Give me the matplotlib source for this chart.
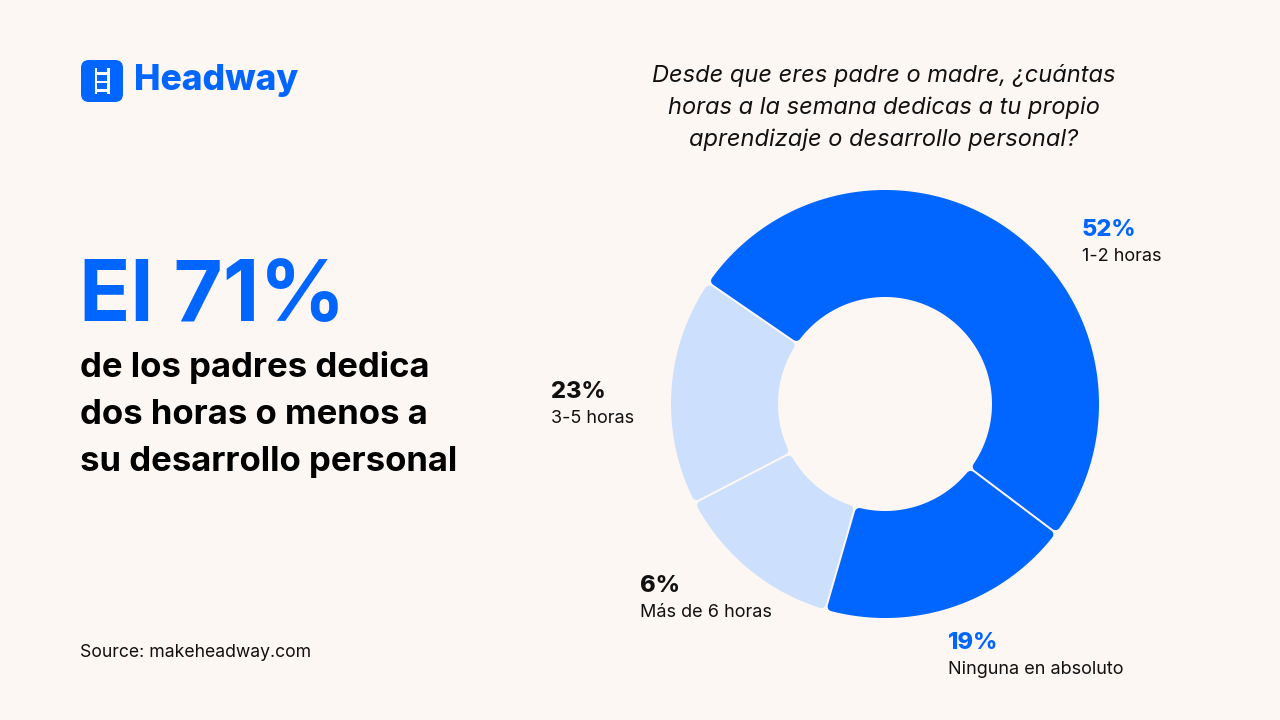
import matplotlib.pyplot as plt
import numpy as np
from matplotlib.patches import Polygon, FancyBboxPatch, Rectangle

# data
categories = ["1-2 horas", "Ninguna en absoluto", "Más de 6 horas", "3-5 horas"]
pct_labels = ["52%", "19%", "6%", "23%"]
# arc share as drawn in the picture (the graphic is not to scale)
arc_share = [50.7, 19.2, 12.9, 17.2]
seg_colors = ["#0066FF", "#0066FF", "#CCE0FD", "#CCE0FD"]
label_colors = ["#0066FF", "#0066FF", "#111111", "#111111"]
label_pos = [(1082, 236), (948, 649), (640, 592), (551, 398)]

BG = "#FDF7F4"
BLUE = "#0066FF"
FONT = "Inter"

fig = plt.figure(figsize=(12.8, 7.2), dpi=100)
fig.patch.set_facecolor(BG)
ax = fig.add_axes([0, 0, 1, 1])
ax.set_xlim(0, 1280)
ax.set_ylim(720, 0)
ax.axis("off")
ax.set_facecolor(BG)

# donut, built in pixel space
cx, cy = 885, 404
R, r = 214, 107
gap, rc = 2.0, 4.5
start = 145.5
pt = 0.72  # points per pixel at dpi 100


def sector(a, b):
    h = gap / 2 + rc
    ro, ri = R - rc, r + rc
    ao = np.radians([a, b]) + np.array([1, -1]) * np.arcsin(h / ro)
    ai = np.radians([a, b]) + np.array([1, -1]) * np.arcsin(h / ri)
    t_out = np.linspace(ao[0], ao[1], 200)
    t_in = np.linspace(ai[1], ai[0], 120)
    xs = np.concatenate([cx + ro * np.cos(t_out), cx + ri * np.cos(t_in)])
    ys = np.concatenate([cy - ro * np.sin(t_out), cy - ri * np.sin(t_in)])
    return np.column_stack([xs, ys])


ang = start
for share, col in zip(arc_share, seg_colors):
    span = share / 100 * 360
    pts = sector(ang - span, ang)
    ax.add_patch(Polygon(pts, closed=True, facecolor=col, edgecolor=col,
                         linewidth=2 * rc * pt, joinstyle="round"))
    ang -= span

for (x, y), p, c, col in zip(label_pos, pct_labels, categories, label_colors):
    ax.text(x, y, p, color=col, fontsize=17, fontweight="heavy", family=FONT,
            va="baseline", ha="left")
    ax.text(x, y + 25, c, color="#111111", fontsize=13, family=FONT,
            va="baseline", ha="left")

# question
q_lines = ["Desde que eres padre o madre, ¿cuántas",
           "horas a la semana dedicas a tu propio",
           "aprendizaje o desarrollo personal?"]
for i, line in enumerate(q_lines):
    ax.text(884, 82 + i * 32, line, fontsize=17, style="italic", family=FONT,
            color="#111111", ha="center", va="baseline")

# headline
ax.text(79, 321, "El 71%", color=BLUE, fontsize=61, fontweight="bold",
        family=FONT, va="baseline", ha="left")
sub = ["de los padres dedica", "dos horas o menos a", "su desarrollo personal"]
for i, line in enumerate(sub):
    ax.text(80, 377 + i * 47, line, color="#000000", fontsize=25,
            fontweight="bold", family=FONT, va="baseline", ha="left")

ax.text(80, 657, "Source: makeheadway.com", fontsize=12.7, family=FONT,
        color="#111111", va="baseline", ha="left")

# logo
ax.add_patch(FancyBboxPatch((81 + 8, 60 + 8), 42 - 16, 42 - 16,
                            boxstyle="round,pad=8", facecolor=BLUE,
                            edgecolor="none"))
for x0 in (94.5, 107):
    ax.add_patch(Rectangle((x0, 68), 2.5, 26, facecolor="white", edgecolor="none"))
for y0 in (72, 80.5, 89):
    ax.add_patch(Rectangle((94.5, y0), 15, 2.5, facecolor="white", edgecolor="none"))
ax.text(134, 90, "Headway", color=BLUE, fontsize=25.5, fontweight="heavy",
        family=FONT, va="baseline", ha="left")

fig.savefig("out.png", dpi=100, facecolor=BG)
